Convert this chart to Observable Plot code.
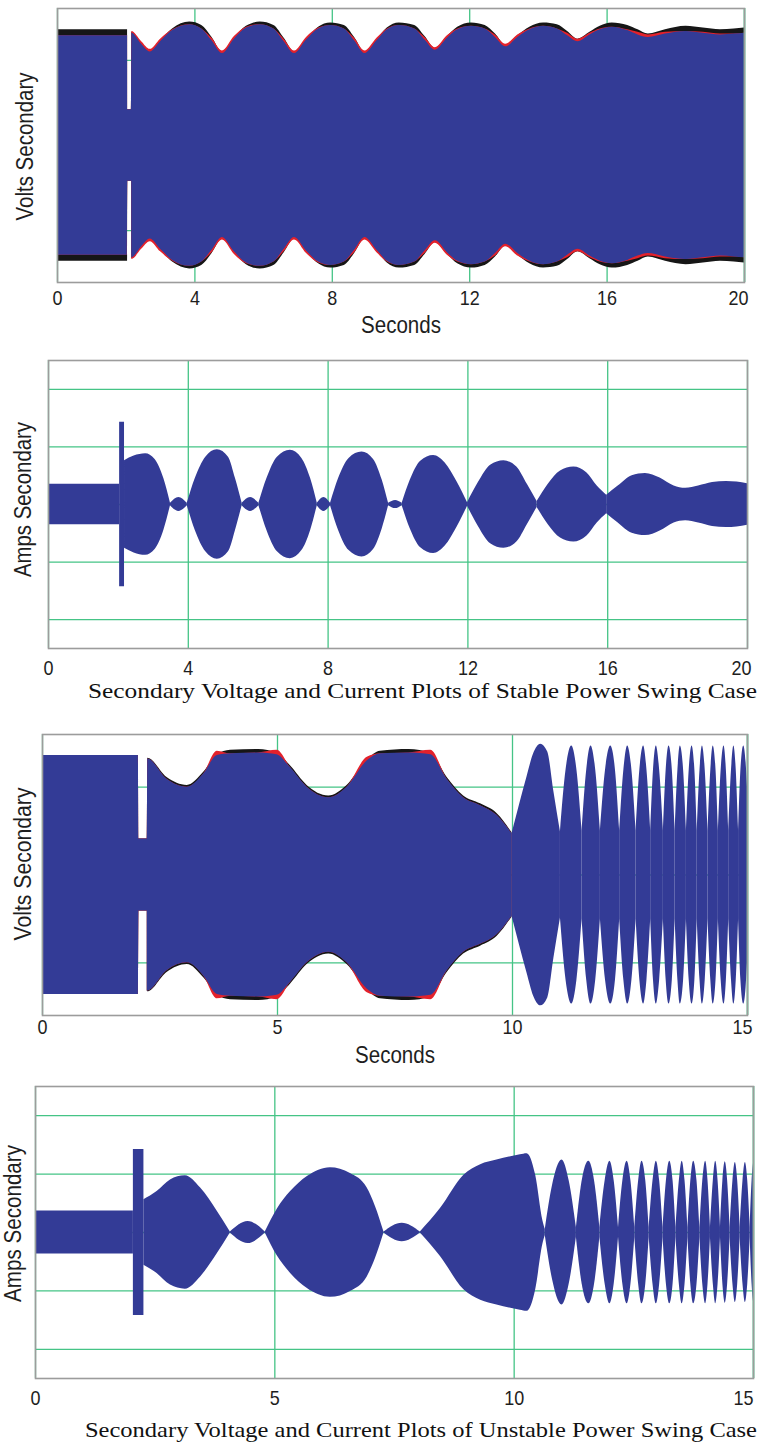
<!DOCTYPE html>
<html><head><meta charset="utf-8">
<script src="https://cdn.jsdelivr.net/npm/d3@7"></script>
<script src="https://cdn.jsdelivr.net/npm/@observablehq/plot@0.6"></script>
<style>
body{margin:0;background:#fff}
#wrap{position:relative;width:759px;height:1443px;overflow:hidden;background:#fff}
</style></head><body><div id="wrap"></div>
<script>
// ---------- data (envelope amplitudes) ----------
// Panel 1: stable case, secondary volts  [seconds, blue phase, black phase, red phase]
const voltsStable = [[0,129,136,129],[2.04,129,136,129],[2.045,42,42,42],[2.16,42,42,42],[2.165,132,133,134],[2.45,119,120,122],[2.7,110,111,113],[3.0,122,123,125],[3.35,135,137,136],[3.85,142,145,142],[4.2,137,141,137],[4.5,123,127,126],[4.8,108,110,111],[5.15,125,126,128],[5.5,138,140,139],[5.9,142,145,142],[6.3,137,141,137],[6.6,122,126,125],[6.9,108,110,111],[7.25,124,125,127],[7.6,137,139,138],[7.95,141,144,141],[8.35,137,141,137],[8.65,123,127,126],[8.95,108,110,111],[9.3,123,124,126],[9.6,136,138,137],[9.95,141,144,141],[10.4,137,141,137],[10.7,124,128,127],[11.0,112,114,115],[11.35,126,128,129],[11.65,136,139,137],[12.05,140,144,140],[12.45,137,141,137],[12.75,127,131,130],[13.05,116,118,119],[13.4,127,129,130],[13.75,136,139,137],[14.15,140,144,140],[14.55,137,142,137],[14.85,129,134,132],[15.15,122,125,125],[15.5,130,133,132],[15.8,136,140,137],[16.15,139,144,139],[16.6,135,141,136],[16.9,130,136,133],[17.2,127,131,130],[17.7,131,136,133],[18.3,134,140,134],[18.8,132,138,133],[19.3,130,136,131],[19.7,131,137,131],[20,132,138,132]];
// Panel 2: stable case, secondary amps, one list per envelope lobe [seconds, amplitude]
const ampsStable = [
 [[0,0.35],[2.035,0.35]],
 [[2.035,1.43],[2.175,1.43]],
 [[2.175,0.76],[2.45,0.84],[2.78,0.88],[3.05,0.78],[3.3,0.45],[3.49,0.02]],
 [[3.49,0.02],[3.73,0.12],[3.97,0.02]],
 [[3.97,0.02],[4.2,0.45],[4.5,0.82],[4.83,0.95],[5.15,0.82],[5.35,0.45],[5.54,0.02]],
 [[5.54,0.02],[5.78,0.12],[6.02,0.02]],
 [[6.02,0.02],[6.25,0.45],[6.55,0.82],[6.92,0.94],[7.25,0.80],[7.5,0.45],[7.69,0.02]],
 [[7.69,0.02],[7.88,0.12],[8.07,0.02]],
 [[8.07,0.02],[8.3,0.45],[8.6,0.80],[8.97,0.91],[9.3,0.78],[9.55,0.42],[9.73,0.02]],
 [[9.73,0.02],[9.93,0.07],[10.12,0.02]],
 [[10.12,0.02],[10.35,0.42],[10.65,0.75],[11.02,0.85],[11.35,0.72],[11.7,0.38],[11.99,0.03]],
 [[11.99,0.03],[12.3,0.38],[12.65,0.68],[13.03,0.76],[13.4,0.65],[13.7,0.35],[13.98,0.05]],
 [[13.98,0.05],[14.3,0.35],[14.65,0.58],[15.03,0.65],[15.4,0.55],[15.7,0.32],[15.97,0.16]],
 [[15.97,0.16],[16.3,0.32],[16.7,0.50],[17.08,0.54],[17.5,0.46],[17.9,0.32],[18.23,0.28],[18.6,0.32],[19.0,0.38],[19.4,0.40],[19.7,0.39],[20,0.36]]
];
// Panel 3: unstable case, secondary volts, swing part [seconds, blue, black, red]
const voltsUnstableSwing = [[0,136,136,136],[2.04,136,136,136],[2.05,41,41,41],[2.23,41,41,41],[2.24,132,133,132],[2.65,109,111,109],[3.08,100,102,100],[3.43,115,117,115],[3.72,136,137,141],[4.0,138,142,138],[4.6,139,143,139],[4.99,137,139,142],[5.28,122,124,122],[5.63,100,102,100],[6.09,88,90,88],[6.48,100,102,100],[6.91,130,131,134],[7.19,138,141,138],[7.8,139,143,139],[8.26,137,139,142],[8.61,109,111,109],[8.96,88,90,88],[9.32,79,81,79],[9.67,68,70,68],[9.99,47,48,47]];
// Panel 3: unstable case, pole-slipping lobes [seconds, amplitude]
const voltsUnstableSlip = [
 [[9.99,47],[10.15,80],[10.31,112],[10.45,138],[10.6,149],[10.75,140],[10.88,95],[11.02,49]],
 [[11.02,49],[11.14,120],[11.26,147],[11.37,120],[11.48,50]],
 [[11.48,50],[11.58,120],[11.67,147],[11.77,120],[11.87,50]],
 [[11.87,50],[11.98,120],[12.09,147],[12.19,120],[12.28,50]],
 [[12.28,50],[12.37,120],[12.45,147],[12.54,120],[12.63,50]],
 [[12.63,50],[12.71,120],[12.79,147],[12.86,120],[12.94,50]],
 [[12.94,50],[13.0,120],[13.06,147],[13.13,120],[13.21,50]],
 [[13.21,50],[13.27,120],[13.33,147],[13.4,120],[13.46,50]],
 [[13.46,50],[13.52,120],[13.57,147],[13.64,120],[13.7,50]],
 [[13.7,50],[13.76,120],[13.82,147],[13.88,120],[13.93,50]],
 [[13.93,50],[13.99,120],[14.04,147],[14.1,120],[14.16,50]],
 [[14.16,50],[14.22,120],[14.27,147],[14.33,120],[14.38,50]],
 [[14.38,50],[14.44,120],[14.5,147],[14.55,120],[14.6,50]],
 [[14.6,50],[14.66,120],[14.71,147],[14.76,120],[14.81,50]],
 [[14.81,50],[14.86,120],[14.92,147],[14.97,128],[15,100]]
];
// Panel 4: unstable case, secondary amps, one list per envelope lobe [seconds, amplitude]
const ampsUnstable = [
 [[0,0.37],[2.045,0.37]],
 [[2.045,1.42],[2.265,1.42]],
 [[2.265,0.56],[2.54,0.70],[2.82,0.90],[3.13,0.97],[3.45,0.76],[3.8,0.36],[4.07,0.01]],
 [[4.07,0.01],[4.44,0.19],[4.8,0.01]],
 [[4.8,0.01],[5.05,0.40],[5.33,0.70],[5.68,0.96],[6.16,1.11],[6.58,1.01],[6.93,0.76],[7.1,0.45],[7.28,0.01]],
 [[7.28,0.01],[7.66,0.16],[8.04,0.01]],
 [[8.04,0.01],[8.46,0.41],[8.95,0.98],[9.3,1.16],[9.64,1.24],[10.13,1.33],[10.27,1.35],[10.45,0.98],[10.6,0.2],[10.65,0.05]],
 [[10.65,0.05],[10.8,0.80],[11.0,1.24],[11.15,0.88],[11.3,0.08]],
 [[11.3,0.08],[11.42,0.88],[11.56,1.22],[11.68,0.88],[11.79,0.08]],
 [[11.79,0.08],[11.9,0.88],[12.0,1.22],[12.09,0.88],[12.18,0.08]],
 [[12.18,0.08],[12.27,0.88],[12.36,1.22],[12.44,0.88],[12.52,0.08]],
 [[12.52,0.08],[12.6,0.88],[12.67,1.22],[12.75,0.88],[12.82,0.08]],
 [[12.82,0.08],[12.9,0.88],[12.97,1.22],[13.04,0.88],[13.11,0.08]],
 [[13.11,0.08],[13.18,0.88],[13.25,1.22],[13.32,0.88],[13.38,0.08]],
 [[13.38,0.08],[13.45,0.88],[13.51,1.22],[13.57,0.88],[13.63,0.08]],
 [[13.63,0.08],[13.69,0.88],[13.75,1.22],[13.82,0.88],[13.88,0.08]],
 [[13.88,0.08],[13.94,0.88],[14.0,1.22],[14.05,0.88],[14.1,0.08]],
 [[14.1,0.08],[14.16,0.88],[14.21,1.22],[14.26,0.88],[14.31,0.08]],
 [[14.31,0.08],[14.36,0.88],[14.41,1.21],[14.46,0.88],[14.51,0.08]],
 [[14.51,0.08],[14.57,0.88],[14.62,1.2],[14.67,0.88],[14.72,0.08]],
 [[14.72,0.08],[14.78,0.88],[14.83,1.2],[14.88,0.88],[14.93,0.08]],
 [[14.93,0.08],[14.97,0.88],[15,1.18]]
];

const ticksStable = [0, 4, 8, 12, 16, 20];
const ticksUnstable = [0, 5, 10, 15];
const gridVolts = [-100, 0, 100];
const gridAmps = [-2, -1, 0, 1, 2];
const labelVolts = "Volts Secondary";
const labelAmps = "Amps Secondary";
const labelTime = "Seconds";
const captions = ["Secondary Voltage and Current Plots of Stable Power Swing Case",
                  "Secondary Voltage and Current Plots of Unstable Power Swing Case"];

// ---------- styles ----------
const BLUE = "#333b96", BLACK = "#161616", RED = "#e3212b", GREEN = "#45c486", FRAME = "#9c9c9c";
const SANS = "'Liberation Sans',Arial,sans-serif";
const SERIF = "'Liberation Serif','Times New Roman',serif";

const wrap = document.getElementById("wrap");
const rows4 = arr => arr.map(([t, blue, black, red]) => ({t, blue, black, red}));
const lobeRows = lobes => lobes.flatMap((lobe, k) => lobe.map(([t, a]) => ({t, a, lobe: k})));
const band = (rows, key, fill, curve) => Plot.areaY(rows, {x: "t", y1: d => -d[key], y2: key, fill, curve});
const lobeBand = (rows, fill) => Plot.areaY(rows, {x: "t", y1: d => -d.a, y2: "a", z: "lobe", fill, curve: "monotone-x"});

function panel(o) {
  const chart = Plot.plot({
    width: 759, height: o.height,
    marginTop: o.mt, marginBottom: o.mb, marginLeft: o.ml, marginRight: o.mr,
    style: {fontFamily: SANS, fontSize: "21px", color: "#1e1e1e", background: "transparent", overflow: "visible"},
    x: {domain: [0, o.xmax], label: null},
    y: {domain: [-o.ymax, o.ymax], axis: null, label: null},
    marks: [
      Plot.gridX(o.xticks, {stroke: GREEN, strokeOpacity: 1, strokeWidth: 1.3}),
      Plot.gridY(o.ygrid, {stroke: GREEN, strokeOpacity: 1, strokeWidth: 1.3}),
      ...o.marks,
      o.edge ? Plot.ruleX([o.xmax], {stroke: GREEN, strokeWidth: 1.6}) : null,
      Plot.frame({stroke: FRAME, strokeWidth: 1.6}),
      Plot.axisX(o.xticks, {tickSize: 0, tickPadding: o.tickPad, label: null, fontSize: 21}),
      Plot.text([o.ylabel], {text: d => d, frameAnchor: "left", textAnchor: "middle", rotate: -90, dx: o.ylx, dy: o.yly, fontSize: 23}),
      o.xlabel ? Plot.text([o.xlabel], {text: d => d, frameAnchor: "bottom", textAnchor: "middle", dy: o.xly, fontSize: 23}) : null
    ].filter(Boolean)
  });
  // narrow the sans-serif lettering to the condensed width of the original
  const ticks = chart.querySelectorAll('g[aria-label="x-axis tick label"] text');
  ticks.forEach((el, i) => {
    el.setAttribute("textLength", el.textContent.length * 10);
    el.setAttribute("lengthAdjust", "spacingAndGlyphs");
    if (i === ticks.length - 1) el.setAttribute("dx", o.lastDx);
  });
  chart.querySelectorAll('g[aria-label="text"] text').forEach(el => {
    el.setAttribute("textLength", el.textContent === labelTime ? 80 : o.ylen);
    el.setAttribute("lengthAdjust", "spacingAndGlyphs");
  });
  chart.style.position = "absolute";
  chart.style.left = "0px";
  chart.style.top = o.top + "px";
  wrap.append(chart);
}

const v1 = rows4(voltsStable), v3 = rows4(voltsUnstableSwing), v3s = lobeRows(voltsUnstableSlip);
const i2 = lobeRows(ampsStable), i4 = lobeRows(ampsUnstable);

panel({top: 0, height: 345, mt: 8, mb: 63, ml: 57, mr: 15, xmax: 20, xticks: ticksStable, ymax: 161, ygrid: gridVolts,
  ylabel: labelVolts, ylen: 148, ylx: -32, yly: 1, xlabel: labelTime, xly: 50, tickPad: 8, edge: true, lastDx: -6,
  marks: [band(v1, "black", BLACK, "monotone-x"), band(v1, "red", RED, "monotone-x"), band(v1, "blue", BLUE, "monotone-x")]});

panel({top: 345, height: 340, mt: 15, mb: 37, ml: 48, mr: 12, xmax: 20, xticks: ticksStable, ymax: 2.5, ygrid: gridAmps,
  ylabel: labelAmps, ylen: 155, ylx: -25, yly: -5, tickPad: 12, edge: false, lastDx: -6,
  marks: [lobeBand(i2, BLUE)]});

panel({top: 720, height: 355, mt: 14, mb: 60, ml: 42, mr: 12, xmax: 15, xticks: ticksUnstable, ymax: 160, ygrid: gridVolts,
  ylabel: labelVolts, ylen: 153, ylx: -19, yly: -11, xlabel: labelTime, xly: 47, tickPad: 4, edge: true, lastDx: -5,
  marks: [band(v3, "black", BLACK, "monotone-x"), band(v3, "red", RED, "monotone-x"), band(v3, "blue", BLUE, "monotone-x"),
          lobeBand(v3s, BLUE)]});

panel({top: 1075, height: 345, mt: 11, mb: 42, ml: 35, mr: 6, xmax: 15, xticks: ticksUnstable, ymax: 2.5, ygrid: gridAmps,
  ylabel: labelAmps, ylen: 157, ylx: -22, yly: -9, tickPad: 12, edge: true, lastDx: -10,
  marks: [lobeBand(i4, BLUE)]});

// captions below the current plots
const capSvg = d3.create("svg").attr("width", 759).attr("height", 1443)
  .style("position", "absolute").style("left", "0px").style("top", "0px").style("pointer-events", "none");
capSvg.selectAll("text").data([{s: captions[0], x: 88, y: 698, w: 669}, {s: captions[1], x: 85, y: 1437, w: 672}])
  .join("text").attr("x", d => d.x).attr("y", d => d.y).attr("textLength", d => d.w)
  .attr("lengthAdjust", "spacingAndGlyphs").attr("font-family", SERIF).attr("font-size", 22).attr("fill", "#111")
  .text(d => d.s);
wrap.append(capSvg.node());
</script></body></html>
